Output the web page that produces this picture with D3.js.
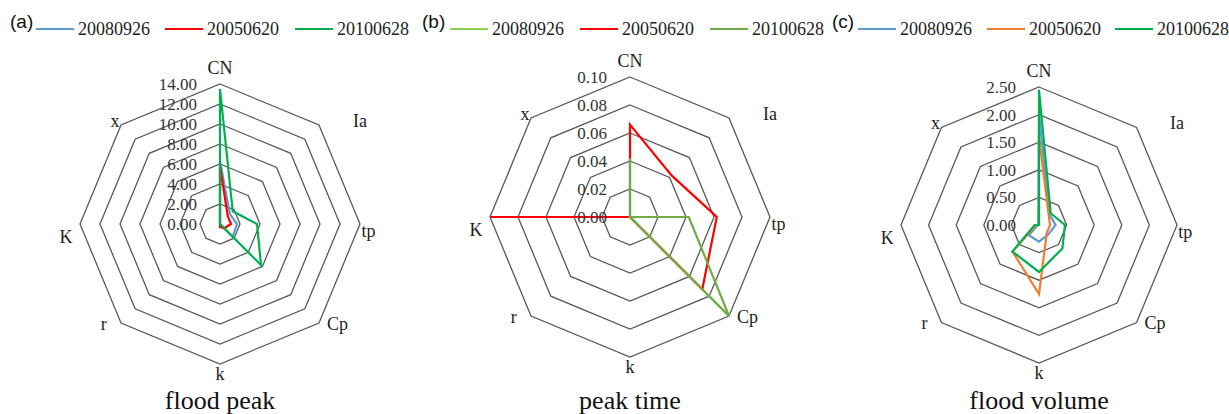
<!DOCTYPE html>
<html><head><meta charset="utf-8">
<script src="https://cdn.jsdelivr.net/npm/d3@7"></script>
<style>
html,body{margin:0;padding:0;background:#fff;}
svg{display:block;}
</style></head>
<body>
<svg id="chart" width="1229" height="414"></svg>
<script>
// ---------- data ----------
const axesNames = ["CN","Ia","tp","Cp","k","r","K","x"];
const seriesNames = ["20080926","20050620","20100628"];

const peakTicks = [0,2,4,6,8,10,12,14];
const peak20080926 = [6.3,1.4,1.7,1.8,0,0,0,0];
const peak20050620 = [5.8,1.1,1.1,0.6,0.3,0,0,0];
const peak20100628 = [13.5,1.8,3.7,5.8,0,0,0,0];

const timeTicks = [0,0.02,0.04,0.06,0.08,0.10];
const time20080926 = [0,0,0,0.10,0,0,0,0];
const time20050620 = [0.066,0.042,0.062,0.073,0,0,0.10,0];
const time20100628 = [0.042,0,0.042,0.10,0,0,0,0];

const volTicks = [0,0.5,1.0,1.5,2.0,2.5];
const vol20080926 = [2.0,0.27,0.3,0.24,0.3,0.26,0.02,0.02];
const vol20050620 = [1.6,0.25,0.2,0.2,1.25,0.68,0.05,0];
const vol20100628 = [2.45,0.3,0.47,0.6,0.85,0.68,0.08,0];

const panelLabels = ["(a)","(b)","(c)"];
const panelTitles = ["flood peak","peak time","flood volume"];

// ---------- layout ----------
const panels = [
  {cx:220, cy:224, R:140, ticks:peakTicks, data:[peak20080926,peak20050620,peak20100628],
   colors:["#5B9BD5","#FF0000","#00B050"], label:panelLabels[0], title:panelTitles[0],
   legendX:10, legendItems:[36,165,295]},
  {cx:630, cy:217, R:140, ticks:timeTicks, data:[time20080926,time20050620,time20100628],
   colors:["#92D050","#FF0000","#70AD47"], label:panelLabels[1], title:panelTitles[1],
   legendX:422, legendItems:[450,580,710]},
  {cx:1039, cy:225, R:138, ticks:volTicks, data:[vol20080926,vol20050620,vol20100628],
   colors:["#5B9BD5","#ED7D31","#00B050"], label:panelLabels[2], title:panelTitles[2],
   legendX:832, legendItems:[858,987,1115]}
];
// label anchor offsets in units of radius
const labelPos = [[0,-1.12],[1.0,-0.74],[1.06,0.05],[0.84,0.71],[0,1.07],[-0.83,0.71],[-1.1,0.09],[-0.75,-0.74]];

const svg = d3.select("#chart");
const serif = "Liberation Serif, Times New Roman, serif";
const sans = "Liberation Sans, Arial, sans-serif";
const N = axesNames.length;
const angle = i => i * 2 * Math.PI / N;

panels.forEach(p => {
  const g = svg.append("g").attr("transform", `translate(${p.cx},${p.cy})`);
  const rScale = d3.scaleLinear().domain([0, d3.max(p.ticks)]).range([0, p.R]);
  const pt = (v,i) => [Math.sin(angle(i))*rScale(v), -Math.cos(angle(i))*rScale(v)];

  // grid rings
  const ring = d3.line().curve(d3.curveLinearClosed);
  g.selectAll("path.ring").data(p.ticks.filter(t => t > 0)).enter().append("path")
    .attr("class","ring")
    .attr("d", t => ring(axesNames.map((_,i) => pt(t,i))))
    .attr("fill","none").attr("stroke","#595959").attr("stroke-width",1.3);

  // series
  const line = d3.line().curve(d3.curveLinearClosed);
  p.data.forEach((vals, si) => {
    g.append("path")
      .attr("d", line(vals.map((v,i) => pt(v,i))))
      .attr("fill","none").attr("stroke",p.colors[si]).attr("stroke-width",2.2)
      .attr("stroke-linejoin","miter");
  });

  // tick labels
  const fmt = d3.format(".2f");
  g.selectAll("text.tick").data(p.ticks).enter().append("text")
    .attr("x",-23).attr("y", t => -rScale(t))
    .attr("dy","0.35em").attr("text-anchor","end")
    .style("font-family",serif).attr("font-size",17).attr("fill","#333")
    .text(t => fmt(t));

  // axis labels
  g.selectAll("text.axis").data(axesNames).enter().append("text")
    .attr("x",(d,i) => labelPos[i][0]*p.R).attr("y",(d,i) => labelPos[i][1]*p.R)
    .attr("dy","0.35em").attr("text-anchor","middle")
    .style("font-family",serif).attr("font-size",18).attr("fill","#222")
    .text(d => d);

  // title
  svg.append("text").attr("x",p.cx).attr("y",409).attr("text-anchor","middle")
    .style("font-family",serif).attr("font-size",26).attr("fill","#111").text(p.title);

  // panel label
  svg.append("text").attr("x",p.legendX).attr("y",28)
    .style("font-family",sans).attr("font-size",19).attr("fill","#111").text(p.label);

  // legend
  seriesNames.forEach((name, si) => {
    const x0 = p.legendItems[si];
    svg.append("line").attr("x1",x0).attr("x2",x0+38).attr("y1",29).attr("y2",29)
      .attr("stroke",p.colors[si]).attr("stroke-width",2);
    svg.append("text").attr("x",x0+42).attr("y",35)
      .style("font-family",serif).attr("font-size",18).attr("fill","#222").text(name);
  });
});
</script>
</body></html>
